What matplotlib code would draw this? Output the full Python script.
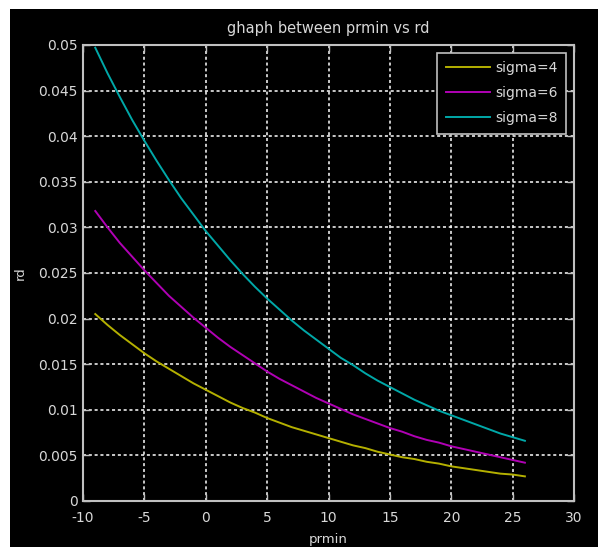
import matplotlib
matplotlib.use("Agg")
import matplotlib.pyplot as plt
from matplotlib.patches import Rectangle

prmin = list(range(-9, 27))
rd_sigma8 = [0.0497, 0.0469, 0.0443, 0.0418, 0.0395, 0.0373, 0.0352, 0.0332, 0.0314,
             0.0296, 0.0280, 0.0264, 0.0249, 0.0235, 0.0222, 0.0210, 0.0198, 0.0187,
             0.0177, 0.0167, 0.0157, 0.0149, 0.0140, 0.0132, 0.0125, 0.0118, 0.0111,
             0.0105, 0.0099, 0.0094, 0.0089, 0.0084, 0.0079, 0.0074, 0.0070, 0.0066]
rd_sigma6 = [0.0318, 0.0300, 0.0283, 0.0268, 0.0253, 0.0239, 0.0225, 0.0213, 0.0201,
             0.0190, 0.0179, 0.0169, 0.0160, 0.0151, 0.0142, 0.0134, 0.0127, 0.0120,
             0.0113, 0.0107, 0.0101, 0.0095, 0.0090, 0.0085, 0.0080, 0.0076, 0.0071,
             0.0067, 0.0064, 0.0060, 0.0057, 0.0054, 0.0051, 0.0048, 0.0045, 0.0042]
rd_sigma4 = [0.0205, 0.0193, 0.0182, 0.0172, 0.0162, 0.0153, 0.0145, 0.0137, 0.0129,
             0.0122, 0.0115, 0.0108, 0.0102, 0.0097, 0.0091, 0.0086, 0.0081, 0.0077,
             0.0073, 0.0069, 0.0065, 0.0061, 0.0058, 0.0054, 0.0051, 0.0048, 0.0046,
             0.0043, 0.0041, 0.0038, 0.0036, 0.0034, 0.0032, 0.0030, 0.0029, 0.0027]
series_labels = ["sigma=4", "sigma=6", "sigma=8"]
xticks = [-10, -5, 0, 5, 10, 15, 20, 25, 30]
yticks = [0, 0.005, 0.01, 0.015, 0.02, 0.025, 0.03, 0.035, 0.04, 0.045, 0.05]
ytick_labels = ["0", "0.005", "0.01", "0.015", "0.02", "0.025", "0.03", "0.035", "0.04", "0.045", "0.05"]

W, H = 598, 547
fig = plt.figure(figsize=(W / 100, H / 100), dpi=100, facecolor="white")
fig.patches.append(Rectangle((10 / W, 0), 1 - 10 / W, 1 - 9 / H, transform=fig.transFigure,
                             facecolor="black", edgecolor="none", zorder=-10))

ax = fig.add_axes([83 / W, 1 - 501 / H, (574 - 83) / W, (501 - 45) / H])
ax.set_zorder(1)
ax.set_facecolor("black")

colors = ["#b4b000", "#b000b4", "#00a8a8"]
for ys, c, lab in zip([rd_sigma4, rd_sigma6, rd_sigma8], colors, series_labels):
    ax.plot(prmin, ys, color=c, linewidth=1.4, label=lab)

ax.set_xlim(-10, 30)
ax.set_ylim(0, 0.05)
ax.set_xticks(xticks)
ax.set_xticklabels([str(t) for t in xticks])
ax.set_yticks(yticks)
ax.set_yticklabels(ytick_labels)

axis_col = "#c0c0c0"
text_col = "#d8d8d8"
for s in ax.spines.values():
    s.set_color(axis_col)
    s.set_linewidth(1.5)
ax.tick_params(direction="in", length=5, width=1, colors=axis_col, labelcolor=text_col,
               labelsize=10, top=True, right=True)
ax.tick_params(axis="y", pad=4)
ax.tick_params(axis="x", pad=7)
ax.grid(True, color="white", linestyle=(0, (2, 1.8)), linewidth=1.1)

ax.set_title("ghaph between prmin vs rd", color=text_col, fontsize=10.5, pad=9)
ax.set_xlabel("prmin", color=text_col, fontsize=9.5, labelpad=6)
ax.set_ylabel("rd", color=text_col, fontsize=9.5, labelpad=8)

leg = ax.legend(loc="upper right", fontsize=10, frameon=True, fancybox=False,
                borderaxespad=0.55, handlelength=3.2, handletextpad=0.4,
                labelspacing=0.8, borderpad=0.6)
leg.get_frame().set_facecolor("black")
leg.get_frame().set_edgecolor(axis_col)
leg.get_frame().set_linewidth(1.2)
leg.get_frame().set_alpha(1)
for t in leg.get_texts():
    t.set_color(text_col)

fig.savefig("out.png", dpi=100, facecolor=fig.get_facecolor())
